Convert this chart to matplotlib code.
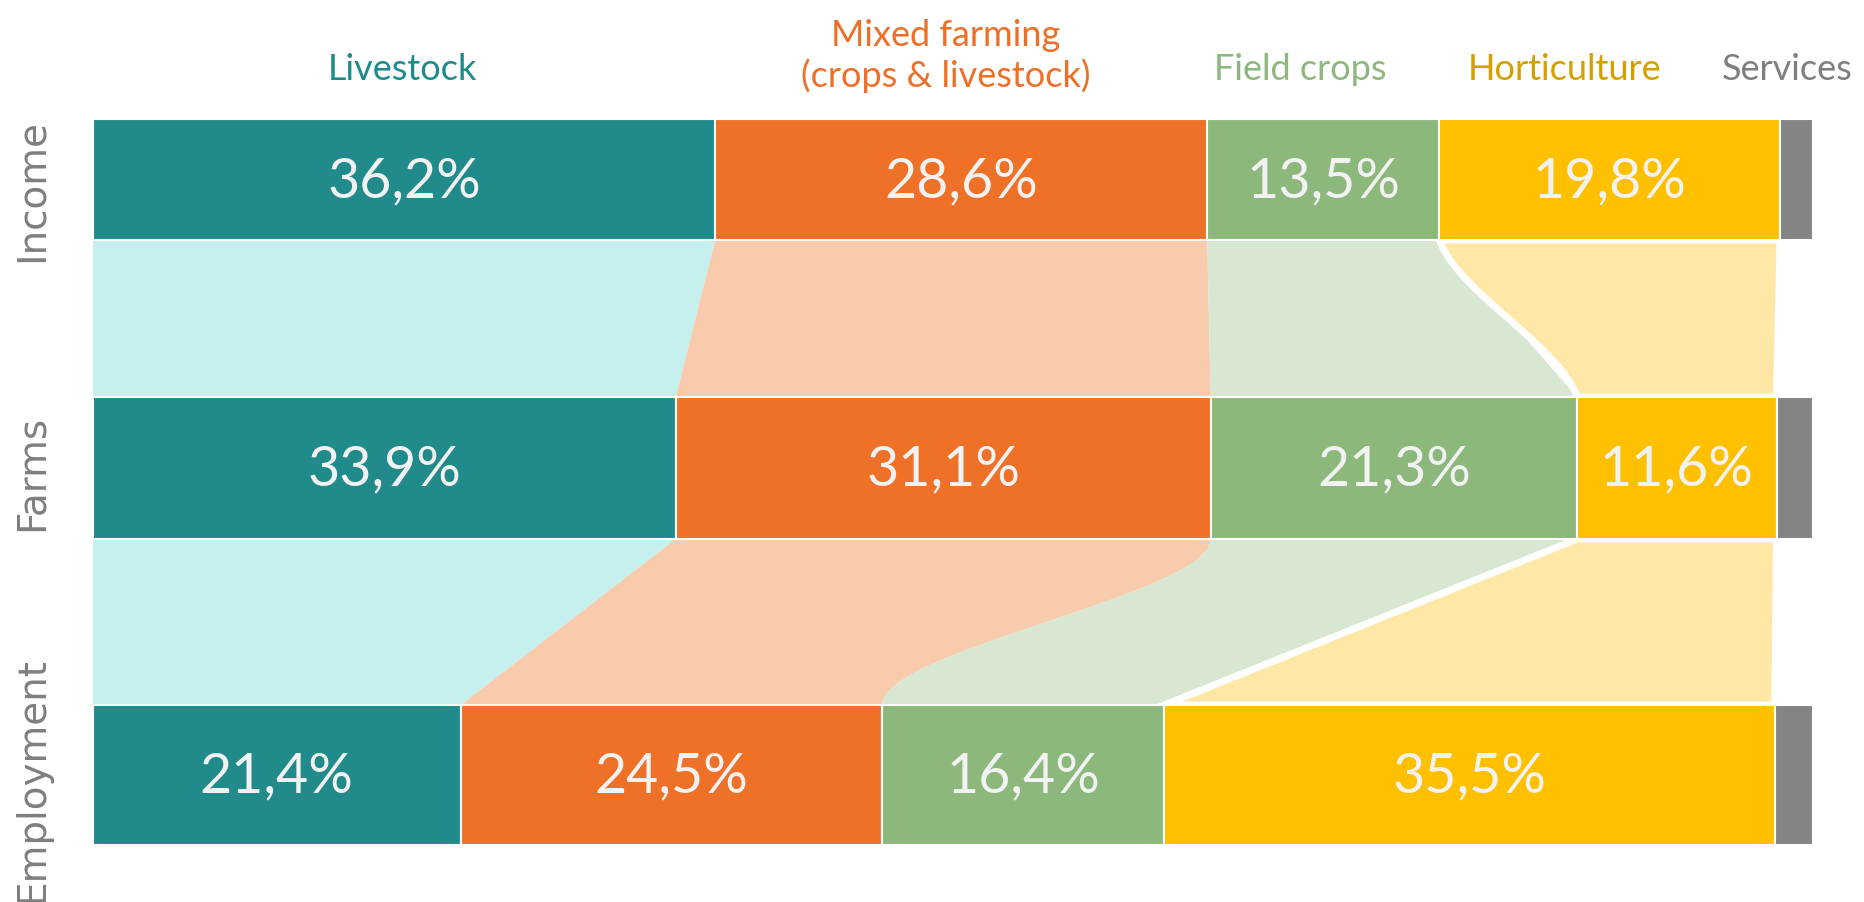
import matplotlib.pyplot as plt
import numpy as np
from matplotlib.patches import Polygon

# data (shares in %, last value = services)
rows = ["Income", "Farms", "Employment"]
categories = ["Livestock", "Mixed farming\n(crops & livestock)", "Field crops", "Horticulture", "Services"]
income = [36.2, 28.6, 13.5, 19.8, 1.9]
farms = [33.9, 31.1, 21.3, 11.6, 2.1]
employment = [21.4, 24.5, 16.4, 35.5, 2.2]
shares = [income, farms, employment]

# styles
dark = ['#218B8B', '#EF7128', '#8CB87C', '#FFC000', '#848484']
light = ['#C5F0EE', '#F8CBAD', '#D7E7D2', '#FFE8A6']
flow_edge = [0, 0, 0, 5]  # only horticulture flows are cut off by a white gap
label_colors = ['#1F8A8A', '#EE7028', '#8DB77D', '#D4A000', '#7F7F7F']
row_color = '#7F7F7F'

# layout (y in pixels from the top, x in % of the bar length)
bar_top = [119, 397, 705]
bar_bot = [240, 539, 845]
row_label_y = [190, 473, 780]
cat_label_x = [18.0, 49.6, 70.2, 85.6, 98.5]
cat_label_y = [69, 56, 69, 69, 69]
# bend of flow edges: (gap, category, side) -> 0 straight .. 1 full S-curve
bends = {(0, 3, 0): 0.6, (1, 1, 1): 1.0, (1, 2, 0): 1.0}

W, H = 1864, 902
fig = plt.figure(figsize=(W / 100, H / 100), dpi=100)
ax = fig.add_axes([92.7 / W, 0, 1720 / W, 1])
ax.set_xlim(0, 100)
ax.set_ylim(H, 0)
ax.axis('off')

font = ['Lato', 'DejaVu Sans']


def edge(x0, x1, c, n=80):
    s = np.linspace(0, 1, n)
    f = (1 - c) * s + c * (3 * s**2 - 2 * s**3)
    return x0 + (x1 - x0) * f, s


lefts = [np.concatenate([[0], np.cumsum(v)[:-1]]) for v in shares]

# flows between rows (services has none)
for g in range(len(rows) - 1):
    y0, y1 = bar_bot[g], bar_top[g + 1]
    for j in range(4):
        a0, a1 = lefts[g][j], lefts[g][j] + shares[g][j]
        b0, b1 = lefts[g + 1][j], lefts[g + 1][j] + shares[g + 1][j]
        xl, s = edge(a0, b0, bends.get((g, j, 0), 0))
        xr, _ = edge(a1, b1, bends.get((g, j, 1), 0))
        ys = y0 + (y1 - y0) * s
        pts = np.vstack([np.column_stack([xl, ys]), np.column_stack([xr, ys])[::-1]])
        ax.add_patch(Polygon(pts, closed=True, facecolor=light[j],
                             edgecolor='white' if flow_edge[j] else 'none',
                             linewidth=flow_edge[j], zorder=1 + 0.1 * j))

# stacked bars
for i, vals in enumerate(shares):
    yc = (bar_top[i] + bar_bot[i]) / 2
    ax.barh(yc, vals, left=lefts[i], height=bar_bot[i] - bar_top[i],
            color=dark, edgecolor='white', linewidth=1.5, zorder=2)
    for j in range(4):
        ax.text(lefts[i][j] + vals[j] / 2, yc + 2, f"{vals[j]:.1f}%".replace('.', ','),
                ha='center', va='center', fontsize=40, color='#F2F2F2',
                family=font, zorder=3)

# category labels on top
for j, name in enumerate(categories):
    ax.text(cat_label_x[j], cat_label_y[j], name, ha='center', va='center',
            fontsize=26, color=label_colors[j], family=font, linespacing=1.25)

# row labels on the left
for i, name in enumerate(rows):
    fig.text(32 / W, 1 - row_label_y[i] / H, name, rotation=90, ha='center',
             va='center', fontsize=28, color=row_color)

fig.savefig('out.png', dpi=100)
